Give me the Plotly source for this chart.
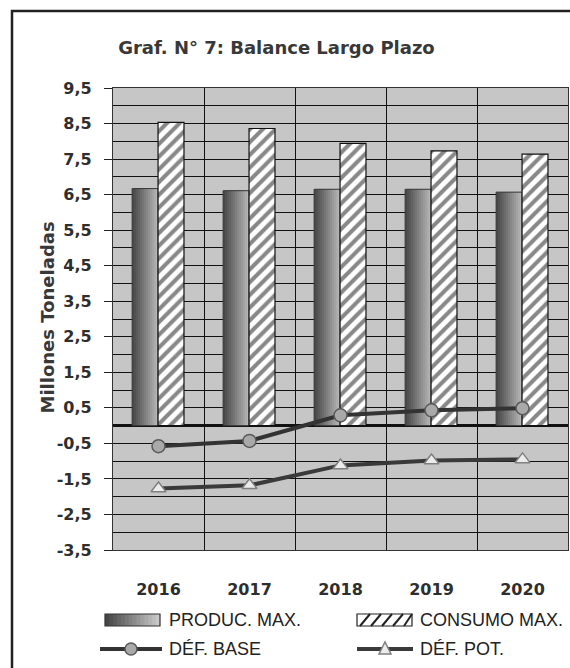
import plotly.graph_objects as go

# Long-term balance data (millions of tonnes)
years = ["2016", "2017", "2018", "2019", "2020"]
produc_max = [6.67, 6.61, 6.65, 6.65, 6.57]
consumo_max = [8.53, 8.36, 7.94, 7.73, 7.64]
def_base = [-0.58, -0.43, 0.29, 0.43, 0.49]
def_pot = [-1.77, -1.68, -1.12, -0.98, -0.95]
y_ticks = [-3.5, -2.5, -1.5, -0.5, 0.5, 1.5, 2.5, 3.5, 4.5, 5.5, 6.5, 7.5, 8.5, 9.5]
y_labels = ["-3,5", "-2,5", "-1,5", "-0,5", "0,5", "1,5", "2,5", "3,5",
            "4,5", "5,5", "6,5", "7,5", "8,5", "9,5"]

W, H = 570, 668
L, R, T, B = 113, 2, 88, 118
PW, PH = W - L - R, H - T - B


def px(x):
    return (x - L) / PW


def py(y):
    return (H - B - y) / PH


TXT = "#2e2e2e"
fig = go.Figure()

# Production bars: shaded from dark (left) to light (right); each layer starts
# a little further right and runs to the bar's right edge
bar_w = 0.285
prod_off = -0.29
n_sl = 13
c0, c1 = 72, 182
for i in range(n_sl):
    g = int(c0 + (c1 - c0) * i / (n_sl - 1))
    fig.add_bar(x=years, y=produc_max, width=bar_w * (n_sl - i) / n_sl,
                offset=prod_off + i * bar_w / n_sl,
                marker=dict(color=f"rgb({g},{g},{g})", line=dict(width=0)),
                showlegend=False, hoverinfo="skip")
fig.add_bar(x=years, y=produc_max, width=bar_w, offset=prod_off, name="PRODUC. MAX.",
            marker=dict(color="rgba(0,0,0,0)", line=dict(color="#3a3a3a", width=1)),
            showlegend=False)

# Consumption bars: white with diagonal hatching
fig.add_bar(x=years, y=consumo_max, width=bar_w, offset=-0.005, name="CONSUMO MAX.",
            marker=dict(color="white", line=dict(color="#111", width=1.2),
                        pattern=dict(shape="/", bgcolor="white", fgcolor="#111",
                                     size=9, solidity=0.45)),
            showlegend=False)

# Deficit lines
fig.add_scatter(x=years, y=def_base, mode="lines+markers", name="DÉF. BASE",
                line=dict(color="#333", width=4),
                marker=dict(symbol="circle", size=13, color="#a9a9a9",
                            line=dict(color="#5a5a5a", width=1.5)),
                showlegend=False)
fig.add_scatter(x=years, y=def_pot, mode="lines+markers", name="DÉF. POT.",
                line=dict(color="#3a3a3a", width=4),
                marker=dict(symbol="triangle-up", size=13, color="#ececec",
                            line=dict(color="#808080", width=1.5)),
                showlegend=False)

fig.update_layout(
    width=W, height=H, barmode="overlay",
    margin=dict(l=L, r=R, t=T, b=B, autoexpand=False),
    paper_bgcolor="white", plot_bgcolor="#c6c6c6",
    title=dict(text="Graf. N° 7: Balance Largo Plazo", x=0.485, xanchor="center",
               y=1 - 48 / H, yanchor="middle",
               font=dict(family="DejaVu Sans", size=18, color="#383838", weight="bold")),
)

fig.update_xaxes(
    type="category", tickson="boundaries", showgrid=True, gridcolor="#111", gridwidth=1.3,
    ticks="", showline=True, linecolor="#333", linewidth=1.2, mirror=True,
    tickfont=dict(family="DejaVu Sans", size=16, color=TXT, weight="bold"),
    ticklabelstandoff=25,
)
fig.update_yaxes(
    range=[-3.5, 9.5], tickvals=y_ticks, ticktext=y_labels,
    ticks="outside", ticklen=8, tickcolor="#222", tickwidth=1,
    showgrid=True, gridcolor="#111", gridwidth=1.3,
    minor=dict(tick0=0, dtick=0.5, showgrid=True, gridcolor="#111", gridwidth=1.3),
    zeroline=True, zerolinecolor="#111", zerolinewidth=2.5,
    showline=True, linecolor="#333", linewidth=1.2, mirror=True,
    tickfont=dict(family="DejaVu Sans", size=16, color=TXT, weight="bold"),
    ticklabelstandoff=9,
)

shapes = []
annots = []

# Outer frame
shapes.append(dict(type="rect", xref="paper", yref="paper",
                   x0=px(12), x1=px(590), y0=py(700), y1=py(11),
                   line=dict(color="#222", width=2.5), fillcolor="rgba(0,0,0,0)",
                   layer="below"))

# Y-axis title
annots.append(dict(text="Millones Toneladas", xref="paper", yref="paper",
                   x=px(34), y=py(318), textangle=-90, showarrow=False,
                   font=dict(family="DejaVu Sans", size=18, color="#383838", weight="bold")))

# Legend (drawn by hand)
LEG_FONT = dict(family="Liberation Sans", size=18, color="#222")
r1, r2 = 620, 649
# PRODUC. MAX. swatch with shading
sx0, sx1 = 105, 160
ns = 14
for i in range(ns):
    g = int(70 + (200 - 70) * i / (ns - 1))
    shapes.append(dict(type="rect", xref="paper", yref="paper",
                       x0=px(sx0 + (sx1 - sx0) * i / ns), x1=px(sx1),
                       y0=py(r1 + 6), y1=py(r1 - 6), line=dict(width=0),
                       fillcolor=f"rgb({g},{g},{g})"))
shapes.append(dict(type="rect", xref="paper", yref="paper", x0=px(sx0), x1=px(sx1),
                   y0=py(r1 + 6), y1=py(r1 - 6), line=dict(color="#333", width=1.2)))
annots.append(dict(text="PRODUC. MAX.", xref="paper", yref="paper", x=px(167), y=py(r1),
                   xanchor="left", yanchor="middle", showarrow=False, font=LEG_FONT))

# CONSUMO MAX. swatch with hatching
hx0, hx1 = 357, 412
shapes.append(dict(type="rect", xref="paper", yref="paper", x0=px(hx0), x1=px(hx1),
                   y0=py(r1 + 6), y1=py(r1 - 6), line=dict(color="#222", width=1.2),
                   fillcolor="white"))
for k in range(5):
    xa = hx0 + 3 + k * 11
    shapes.append(dict(type="line", xref="paper", yref="paper",
                       x0=px(xa), x1=px(min(xa + 10, hx1)), y0=py(r1 + 6), y1=py(r1 - 6),
                       line=dict(color="#222", width=2)))
annots.append(dict(text="CONSUMO MAX.", xref="paper", yref="paper", x=px(418), y=py(r1),
                   xanchor="left", yanchor="middle", showarrow=False, font=LEG_FONT))

# DÉF. BASE swatch
shapes.append(dict(type="line", xref="paper", yref="paper", x0=px(100), x1=px(162),
                   y0=py(r2), y1=py(r2), line=dict(color="#333", width=4)))
shapes.append(dict(type="circle", xref="paper", yref="paper", x0=px(125), x1=px(137),
                   y0=py(r2 + 6), y1=py(r2 - 6), line=dict(color="#5a5a5a", width=1.5),
                   fillcolor="#a9a9a9"))
annots.append(dict(text="DÉF. BASE", xref="paper", yref="paper", x=px(167), y=py(r2),
                   xanchor="left", yanchor="middle", showarrow=False, font=LEG_FONT))

# DÉF. POT. swatch
shapes.append(dict(type="line", xref="paper", yref="paper", x0=px(357), x1=px(413),
                   y0=py(r2), y1=py(r2), line=dict(color="#3a3a3a", width=4)))
tx, ty = 385, r2
shapes.append(dict(type="path", xref="paper", yref="paper",
                   path=f"M {px(tx-6)} {py(ty+5)} L {px(tx+6)} {py(ty+5)} L {px(tx)} {py(ty-7)} Z",
                   line=dict(color="#808080", width=1.5), fillcolor="#ececec"))
annots.append(dict(text="DÉF. POT.", xref="paper", yref="paper", x=px(418), y=py(r2),
                   xanchor="left", yanchor="middle", showarrow=False, font=LEG_FONT))

fig.update_layout(shapes=shapes, annotations=annots)
fig.write_html("out.html")
